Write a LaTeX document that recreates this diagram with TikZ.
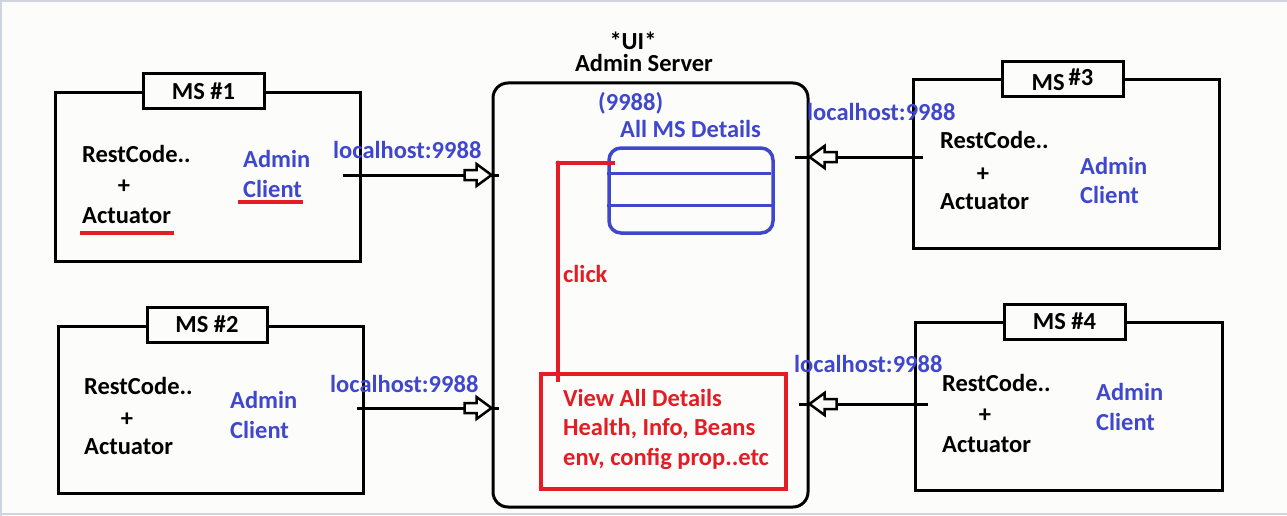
\documentclass[tikz,border=0pt]{standalone}
\usepackage{fontspec}
\setmainfont{Carlito}
\usetikzlibrary{calc}
\definecolor{ublue}{RGB}{63,72,204}
\definecolor{ured}{RGB}{228,28,36}
\definecolor{bg}{RGB}{252,252,250}
\definecolor{frame}{RGB}{208,212,224}
\begin{document}
\begin{tikzpicture}[x=1pt,y=-1pt,
  txt/.style={inner sep=0pt, anchor=base west, font=\fontsize{24.5}{29}\selectfont\bfseries},
  ctxt/.style={txt, anchor=base},
  bluetxt/.style={txt, text=ublue},
  redtxt/.style={txt, text=ured},
  msbox/.style={draw=black, line width=3, fill=bg, inner sep=0pt},
  titlebox/.style={draw=black, line width=3, fill=bg, inner sep=0pt, minimum width=121, minimum height=35, font=\fontsize{24.5}{29}\selectfont\bfseries},
  conn/.style={draw=black, line width=3},
  redline/.style={draw=ured, line width=3.5},
  hollow/.pic={\draw[line width=2.5, fill=bg, line join=miter] (-27,-5) -- (-15,-5) -- (-15,-11) -- (0,0) -- (-15,11) -- (-15,5) -- (-27,5) -- cycle;}
]
\useasboundingbox (0,0) rectangle (1287,516);
\fill[bg] (0,0) rectangle (1287,516);
\draw[frame, line width=2] (0,1) -- (1287,1);
\draw[frame, line width=2] (1,0) -- (1,516);
\draw[frame, line width=2] (0,514) -- (1287,514);

% server
\node[draw=black, line width=3, rounded corners=15, minimum width=315, minimum height=424, inner sep=0pt] (server) at (650.5,295) {};
\node[ctxt] (ui) at (633,50) {*UI*};
\node[ctxt] (adminserver) at (644,72) {Admin Server};
\node[bluetxt] (port) at (598,111) {(9988)};
\node[bluetxt] (allms) at (620,137) {All MS Details};
\node[draw=ublue, line width=3.5, rounded corners=12, minimum width=164, minimum height=85, inner sep=0pt] (details) at (691,190.5) {};
\draw[ublue, line width=3.5] ($(details.north west)+(0,27)$) -- ($(details.north east)+(-4,27)$);
\draw[ublue, line width=3.5] ($(details.north west)+(0,59)$) -- ($(details.north east)+(0,59)$);
\node[draw=ured, line width=3.5, minimum width=245, minimum height=115, inner sep=0pt] (view) at (663.5,431.5) {};
\node[redtxt] (v1) at (563,406) {View All Details};
\node[redtxt] (v2) at (563,435) {Health, Info, Beans};
\node[redtxt] (v3) at (563,465) {env, config prop..etc};
\coordinate (clickcorner) at (558,163);
\coordinate (clickend) at (558,382);
\draw[redline] (clickend) -- (clickcorner) -- (details.west |- clickcorner) -- ++(8,0);
\fill[ured] (clickcorner) circle (2.5);
\node[redtxt] (click) at (563,282) {click};

% MS #1
\node[msbox, minimum width=305, minimum height=168] (ms1) at (207.5,177) {};
\node[titlebox] (t1) at (203.5,91.5) {MS \#1};
\node[txt] (r1) at (82,162) {RestCode..};
\node[ctxt] (p1) at (124,193) {+};
\node[txt] (a1) at (82,223) {Actuator};
\node[bluetxt] (ad1) at (243,167) {Admin};
\node[bluetxt] (c1) at (243,197) {Client};
\draw[redline] (80,233) -- (174,233);
\draw[redline] (238,202) -- (303,202);
\node[bluetxt] (l1) at (333,158) {localhost:9988};
\coordinate (s1) at (343,175);
\coordinate (e1) at (server.west |- s1);
\draw[conn] (s1) -- ($(e1)+(7,0)$);
\path (e1) pic {hollow};

% MS #2
\node[msbox, minimum width=305, minimum height=167] (ms2) at (210.5,409.5) {};
\node[titlebox, minimum width=120] (t2) at (207,324.5) {MS \#2};
\node[txt] (r2) at (84,394) {RestCode..};
\node[ctxt] (p2) at (127,426) {+};
\node[txt] (a2) at (84,454) {Actuator};
\node[bluetxt] (ad2) at (230,408) {Admin};
\node[bluetxt] (c2) at (230,438) {Client};
\node[bluetxt] (l2) at (330,392) {localhost:9988};
\coordinate (s2) at (357,408);
\coordinate (e2) at (server.west |- s2);
\draw[conn] (s2) -- ($(e2)+(7,0)$);
\path (e2) pic {hollow};

% MS #3
\node[msbox, minimum width=306, minimum height=168] (ms3) at (1066,164) {};
\node[titlebox] (t3) at (1062.5,79.5) {MS\,\raisebox{5pt}{\#3}};
\node[txt] (r3) at (940,149) {RestCode..};
\node[ctxt] (p3) at (983,181) {+};
\node[txt] (a3) at (940,209) {Actuator};
\node[bluetxt] (ad3) at (1080,174) {Admin};
\node[bluetxt] (c3) at (1080,203) {Client};
\node[bluetxt] (l3) at (807,121) {localhost:9988};
\coordinate (s3) at (923,157);
\coordinate (e3) at (server.east |- s3);
\draw[conn] (s3) -- ($(e3)+(-15,0)$);
\path (e3) pic[xscale=-1] {hollow};

% MS #4
\node[msbox, minimum width=307, minimum height=168] (ms4) at (1068.5,406) {};
\node[titlebox] (t4) at (1064.5,321.5) {MS \#4};
\node[txt] (r4) at (942,391) {RestCode..};
\node[ctxt] (p4) at (985,422) {+};
\node[txt] (a4) at (942,452) {Actuator};
\node[bluetxt] (ad4) at (1096,400) {Admin};
\node[bluetxt] (c4) at (1096,430) {Client};
\node[bluetxt] (l4) at (794,372) {localhost:9988};
\coordinate (s4) at (928,404);
\coordinate (e4) at (server.east |- s4);
\draw[conn] (s4) -- ($(e4)+(-11,0)$);
\path (e4) pic[xscale=-1] {hollow};
\end{tikzpicture}
\end{document}
